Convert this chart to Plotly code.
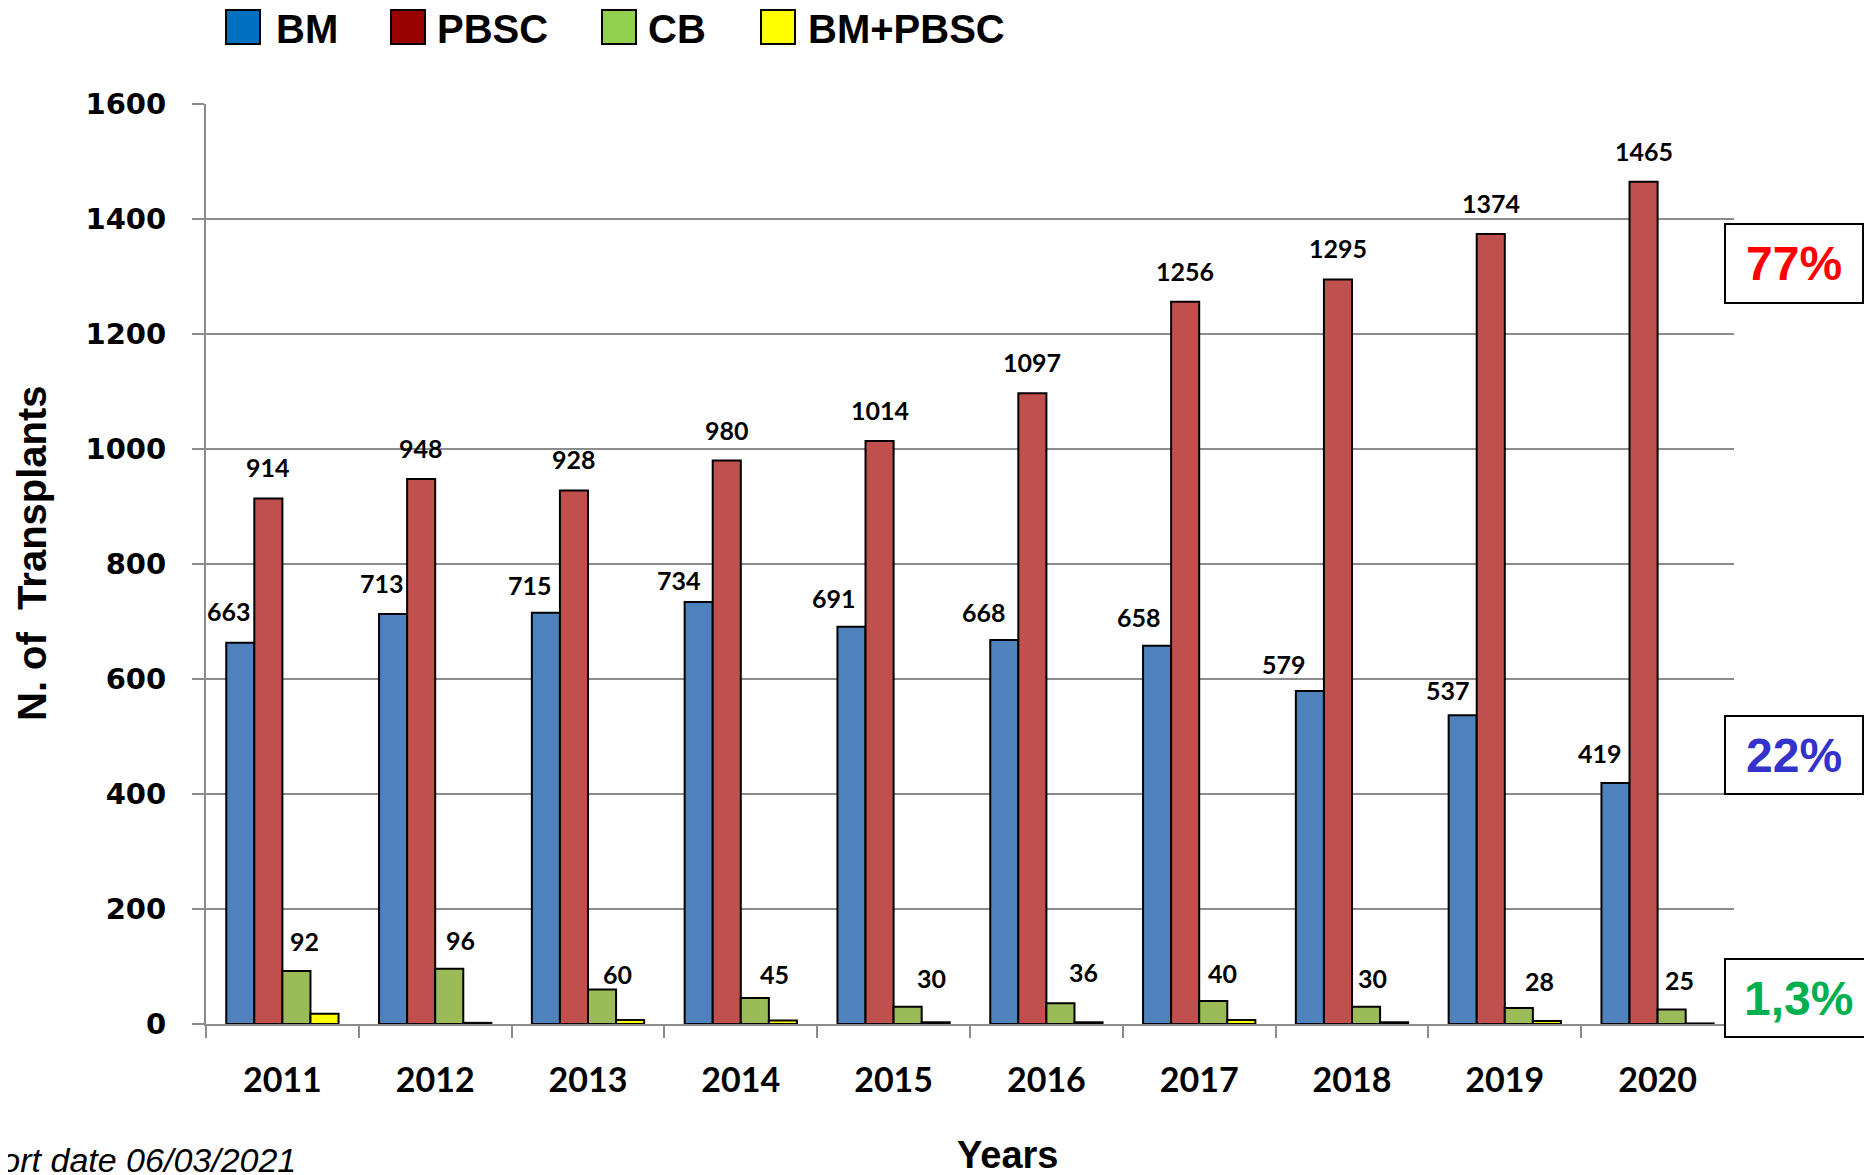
import plotly.graph_objects as go

years = ["2011", "2012", "2013", "2014", "2015", "2016", "2017", "2018", "2019", "2020"]
bm = [663, 713, 715, 734, 691, 668, 658, 579, 537, 419]
pbsc = [914, 948, 928, 980, 1014, 1097, 1256, 1295, 1374, 1465]
cb = [92, 96, 60, 45, 30, 36, 40, 30, 28, 25]
bm_pbsc = [18, 2, 7, 6, 3, 3, 7, 3, 5, 1]

series_names = ["BM", "PBSC", "CB", "BM+PBSC"]
bar_colors = ["#4F81BD", "#C0504D", "#9BBB59", "#FFFF00"]
legend_colors = ["#0070C0", "#990000", "#92D050", "#FFFF00"]
y_ticks = [0, 200, 400, 600, 800, 1000, 1200, 1400, 1600]
share_labels = ["77%", "22%", "1,3%"]
share_colors = ["#FF0000", "#3333CC", "#00B050"]

# hand-placed label nudges (pixels) as in the original slide
bm_label_dx = [-11, -11, -16, -20, -17, -20, -18, -26, -15, -15]
bm_label_dy = [15, 14, 11, 5, 12, 11, 12, 10, 8, 13]
cb_label_dx = [8, 11, 15, 20, 24, 23, 9, 6, 21, 8]
cb_label_dy = [13, 12, -1, 7, 12, 14, 11, 12, 10, 13]

OFF = 8  # page body margin
W, H = 1864, 1167
ML, MT = 206 - OFF, 104 - OFF
PW, PH = 1528, 920
MR = W - ML - PW
MB = H - MT - PH
BARGAP = 0.265
GRID = "#8C8C8C"


def px(x):
    return (x - OFF - ML) / PW


def py(y):
    return (MT + PH - (y - OFF)) / PH


fig = go.Figure()
for name, vals, col in zip(series_names, [bm, pbsc, cb, bm_pbsc], bar_colors):
    fig.add_trace(go.Bar(x=years, y=vals, name=name, marker=dict(color=col, line=dict(color="black", width=2)),
                         showlegend=False))

cat_w = PW / len(years)
bar_w = cat_w * (1 - BARGAP) / 4
label_font = dict(family="Lato, Open Sans, sans-serif", size=25, color="black")
annotations = []


def add_labels(vals, idx, dxs, dys):
    for i, v in enumerate(vals):
        annotations.append(dict(x=i, y=v, xref="x", yref="y", text="<b>%d</b>" % v, showarrow=False,
                                xshift=(idx - 1.5) * bar_w + dxs[i], yshift=dys[i], yanchor="bottom",
                                xanchor="center", font=label_font))


add_labels(bm, 0, bm_label_dx, bm_label_dy)
add_labels(pbsc, 1, [0] * len(pbsc), [14] * len(pbsc))
add_labels(cb, 2, cb_label_dx, cb_label_dy)

# legend (drawn manually)
shapes = []
leg_sw = [226, 391, 602, 761]
leg_tx = [274, 435, 646, 806]
for name, col, sx, tx in zip(series_names, legend_colors, leg_sw, leg_tx):
    shapes.append(dict(type="rect", xref="paper", yref="paper", x0=px(sx), x1=px(sx + 34), y0=py(10), y1=py(44),
                       fillcolor=col, line=dict(color="black", width=2)))
    annotations.append(dict(x=px(tx), y=py(29), xref="paper", yref="paper", text="<b>%s</b>" % name,
                            showarrow=False, xanchor="left", yanchor="middle",
                            font=dict(family="Liberation Sans, Arial, sans-serif", size=40, color="black")))

# share boxes
boxes = [(1725, 1863, 224, 303), (1725, 1863, 716, 794), (1725, 1871, 959, 1037)]
for (x0, x1, y0, y1), lab, col in zip(boxes, share_labels, share_colors):
    shapes.append(dict(type="rect", xref="paper", yref="paper", x0=px(x0), x1=px(x1), y0=py(y0), y1=py(y1),
                       fillcolor="white", line=dict(color="black", width=2), layer="above"))
    annotations.append(dict(x=px((x0 + x1) / 2), y=py((y0 + y1) / 2), xref="paper", yref="paper",
                            text="<b>%s</b>" % lab, showarrow=False, xanchor="center", yanchor="middle",
                            font=dict(family="Liberation Sans, Arial, sans-serif", size=48, color=col)))

# axis titles and footnote
annotations.append(dict(x=px(32), y=py(553), xref="paper", yref="paper", text="<b>N. of\u00a0 Transplants</b>",
                        textangle=-90, showarrow=False, xanchor="center", yanchor="middle",
                        font=dict(family="Liberation Sans, Arial, sans-serif", size=40, color="black")))
annotations.append(dict(x=px(1007), y=py(1155), xref="paper", yref="paper", text="<b>Years</b>",
                        showarrow=False, xanchor="center", yanchor="middle",
                        font=dict(family="Liberation Sans, Arial, sans-serif", size=38, color="black")))
annotations.append(dict(x=px(298), y=py(1160), xref="paper", yref="paper", text="<i>Report date 06/03/2021</i>",
                        showarrow=False, xanchor="right", yanchor="middle",
                        font=dict(family="Liberation Sans, Arial, sans-serif", size=34, color="black")))

fig.update_layout(
    width=W, height=H,
    margin=dict(l=ML, r=MR, t=MT, b=MB, pad=0, autoexpand=False),
    paper_bgcolor="white", plot_bgcolor="white",
    barmode="group", bargap=BARGAP, bargroupgap=0,
    showlegend=False,
    shapes=shapes, annotations=annotations,
    xaxis=dict(type="category", categoryorder="array", categoryarray=years, range=[-0.5, len(years) - 0.5],
               showgrid=False, showline=True, linecolor=GRID, linewidth=2, automargin=False,
               ticks="outside", tickson="boundaries", ticklen=12, tickwidth=2, tickcolor=GRID, tickangle=0,
               tickfont=dict(family="Lato, Open Sans, sans-serif", size=34, color="black", weight="bold"),
               ticklabelstandoff=25),
    yaxis=dict(range=[0, 1600], tickvals=y_ticks, showgrid=True, gridcolor=GRID, gridwidth=2, automargin=False,
               showline=True, linecolor=GRID, linewidth=2, zeroline=False,
               ticks="outside", ticklen=12, tickwidth=2, tickcolor=GRID,
               tickfont=dict(family="DejaVu Sans, sans-serif", size=29, color="black", weight="bold"),
               ticklabelstandoff=20),
)

fig.write_html("out.html")
